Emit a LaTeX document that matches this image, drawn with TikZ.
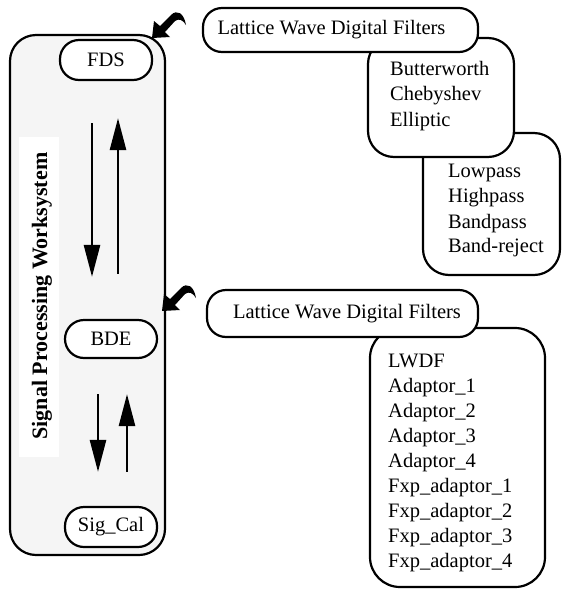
\documentclass[tikz,border=0pt]{standalone}
\usepackage{fontspec}
\setmainfont{Liberation Serif}
\usetikzlibrary{arrows.meta,calc}
\definecolor{paneltint}{HTML}{F5F5F5}
\begin{document}
\begin{tikzpicture}[x=1pt,y=-1pt,
  txt/.style={font=\fontsize{20.5}{25}\selectfont,inner sep=0pt},
  linetxt/.style={txt,anchor=base west},
  frame/.style={draw=black,line width=2.2pt,fill=white,rounded corners=26pt,inner sep=0pt},
  pill/.style={draw=black,line width=2.2pt,fill=white,rounded corners=19pt,inner sep=0pt,font=\fontsize{20.5}{25}\selectfont},
  bigarrow/.style={line width=2.6pt,-{Triangle[length=32pt,width=16pt]}},
  curl/.pic={\fill[black] (0,0) -- (2,-17) -- (8,-12) -- (19,-23)
      .. controls (25,-29) and (32,-25) .. (34,-13)
      .. controls (31,-18) and (27,-20) .. (23,-17)
      -- (13,-6) -- (18,-1) -- cycle;}]
\useasboundingbox (0,0) rectangle (564,590);

% ---- left: the work system ----
\node[frame,fill=paneltint,minimum width=155pt,minimum height=520pt] (sys) at (87.5,295) {};
\node[fill=white,inner sep=0pt,minimum width=40pt,minimum height=320pt] (lblbg) at (38.5,297) {};
\node[inner sep=0pt,font=\fontsize{22}{26}\selectfont\bfseries,rotate=90] (lbl) at (42,296) {Signal Processing Worksystem};

\node[pill,minimum width=92pt,minimum height=40pt] (fds) at (106,60) {FDS};
\node[pill,minimum width=92pt,minimum height=38pt] (bde) at (111,339) {BDE};
\node[pill,minimum width=92pt,minimum height=40pt] (sig) at (111,527) {Sig\_Cal};

\coordinate (xa) at (92,0);
\coordinate (xb) at (118,0);
\coordinate (xc) at (98,0);
\coordinate (xd) at (127,0);
\draw[bigarrow,shorten <=42pt,shorten >=42pt] (fds.south -| xa) -- (bde.north -| xa);
\draw[bigarrow,shorten <=45pt,shorten >=37pt] (bde.north -| xb) -- (fds.south -| xb);
\draw[bigarrow,shorten <=35pt,shorten >=34pt] (bde.south -| xc) -- (sig.north -| xc);
\draw[bigarrow,shorten <=34pt,shorten >=35pt] (sig.north -| xd) -- (bde.south -| xd);

% ---- upper right: filter types ----
\node[frame,minimum width=137pt,minimum height=142pt] (bands) at (491.5,204) {};
\foreach \t [count=\i] in {Lowpass,Highpass,Bandpass,Band-reject}
  \node[linetxt] (band-\i) at (448,{177+25*(\i-1)+(\i==3?1:0)}) {\t};
\node[frame,minimum width=146pt,minimum height=119pt] (kinds) at (441,97.5) {};
\node[linetxt] (kind-1) at (390,75) {Butterworth};
\node[linetxt] (kind-2) at (390,100) {Chebyshev};
\node[linetxt] (kind-3) at (390,126) {Elliptic};
\node[pill,minimum width=275pt,minimum height=44pt] (lwdfa) at (340.5,30) {\hspace*{-18pt}Lattice Wave Digital Filters};

% ---- lower right: design blocks ----
\node[frame,rounded corners=30pt,minimum width=175pt,minimum height=259pt] (blocks) at (457.5,457.5) {};
\foreach \t [count=\i] in {LWDF,Adaptor\_1,Adaptor\_2,Adaptor\_3,Adaptor\_4,Fxp\_adaptor\_1,Fxp\_adaptor\_2,Fxp\_adaptor\_3,Fxp\_adaptor\_4}
  \node[linetxt] (blk-\i) at (388,{367+25*(\i-1)}) {\t};
\node[pill,minimum width=271pt,minimum height=47pt] (lwdfb) at (342.5,313.5) {\hspace*{9pt}Lattice Wave Digital Filters};

% ---- curled pointers into the work system ----
\coordinate (tipA) at (152,38);
\coordinate (tipB) at (162,311);
\pic (ptrA) at (tipA) {curl};
\pic (ptrB) at (tipB) {curl};
\end{tikzpicture}
\end{document}
